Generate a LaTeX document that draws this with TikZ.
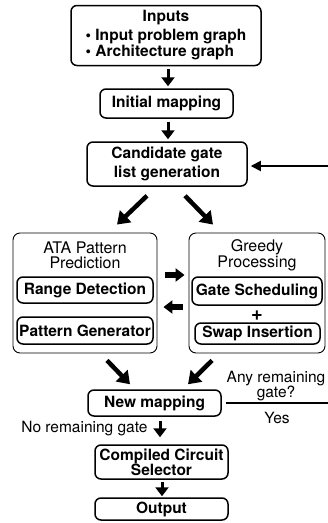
\documentclass[tikz,border=0pt]{standalone}
\usepackage{fontspec}
\setmainfont{TeX Gyre Heros}
\usetikzlibrary{arrows.meta,calc}
\begin{document}
\begin{tikzpicture}[x=1pt,y=-1pt,
  box/.style={draw,rounded corners=6pt,line width=1.5pt,inner sep=0pt,align=center,font=\bfseries},
  outer/.style={draw,rounded corners=7pt,line width=0.9pt,inner sep=0pt},
  vdown/.style={line width=3pt,-{Triangle[width=13pt,length=9pt]}},
  diag/.style={line width=4.5pt,-{Triangle[width=16pt,length=12pt]}},
  block/.style={line width=5.5pt,-{Triangle[width=13pt,length=9pt]}},
  back/.style={line width=1.8pt,-{Triangle[width=10pt,length=10pt]}},
  lbl/.style={inner sep=0pt,align=center}]
\fontsize{15.5}{15}\selectfont
\useasboundingbox (0,0) rectangle (328,523);
% Draw the main column
\node[box,minimum width=190,minimum height=60] (inputs) at (166,35.5)
  {\begin{tabular}{@{}l@{}}\multicolumn{1}{@{}c@{}}{Inputs}\\[3pt]
   \textbullet\ Input problem graph\\ \textbullet\ Architecture graph\end{tabular}};
\node[box,minimum width=133,minimum height=29] (initmap) at (166.5,103.5) {Initial mapping};
\node[box,minimum width=160,minimum height=44] (cand) at (167,164) {Candidate gate\\[4.5pt]list generation};
% Draw the two processing blocks
\node[outer,minimum width=144,minimum height=120] (ata) at (85,293) {};
\node[outer,minimum width=136,minimum height=120] (greedy) at (257,293) {};
\node[lbl,font=\fontsize{16}{15}\selectfont] (atatitle) at (85,255.5) {ATA Pattern\\Prediction};
\node[lbl,font=\fontsize{16}{15}\selectfont] (greedytitle) at (257,255.5) {Greedy\\Processing};
\node[box,minimum width=136,minimum height=26] (range) at (85,290) {Range Detection};
\node[box,minimum width=136,minimum height=27] (pattern) at (85,330.5) {Pattern Generator};
\node[box,minimum width=130,minimum height=28] (gatesch) at (257,291) {Gate Scheduling};
\node[lbl,font=\fontsize{20}{20}\selectfont\bfseries] (plus) at (257,316) {+};
\node[box,minimum width=125,minimum height=21] (swap) at (257.5,333.5) {Swap Insertion};
% Draw the bottom part
\node[box,minimum width=133,minimum height=26] (newmap) at (154.5,403) {New mapping};
\node[box,minimum width=133,minimum height=34] (ccs) at (161.5,462) {Compiled Circuit\\Selector};
\node[box,minimum width=133,minimum height=22] (output) at (161.5,509) {Output};
\node[lbl,anchor=south,font=\fontsize{15.5}{12}\selectfont] (anyrem) at (276,401.5) {Any remaining\\gate?};
\node[lbl] (yes) at (277,418) {Yes};
\coordinate (fbA) at (328,403);
\coordinate (fbB) at (328,166);
% Draw the arrows
\draw[vdown] ($(inputs.south)+(2,3)$) -- ($(initmap.north)+(1.5,-2)$);
\draw[vdown] ($(initmap.south)+(1.5,3)$) -- ($(cand.north)+(1,-2)$);
\draw[diag] ($(cand.south)+(-20,9)$) -- ($(ata.north)+(32,-8)$);
\draw[diag] ($(cand.south)+(18,9)$) -- ($(greedy.north)+(-44,-8)$);
\draw[block] ($(ata.east)+(8,-18)$) -- ($(greedy.west)+(-4,-18)$);
\draw[block] ($(greedy.west)+(-6,14)$) -- ($(ata.east)+(6,14)$);
\draw[diag] ($(ata.south)+(22,7)$) -- ($(newmap.north)+(-24.5,-5)$);
\draw[diag] ($(greedy.south)+(-45,7)$) -- ($(newmap.north)+(33.5,-5)$);
\draw[vdown] ($(newmap.south)+(5.5,4)$) -- node[lbl,left=11pt] (norem) {No remaining gate} ($(ccs.north)+(-1.5,-7)$);
\draw[vdown] ($(ccs.south)+(0.5,2)$) -- ($(output.north)+(0.5,-1)$);
\draw[line width=1.8pt] (newmap.east) ++(4,0) -- (fbA);
\draw[back] (fbB) -- ($(cand.east)+(3,2)$);
\end{tikzpicture}
\end{document}
